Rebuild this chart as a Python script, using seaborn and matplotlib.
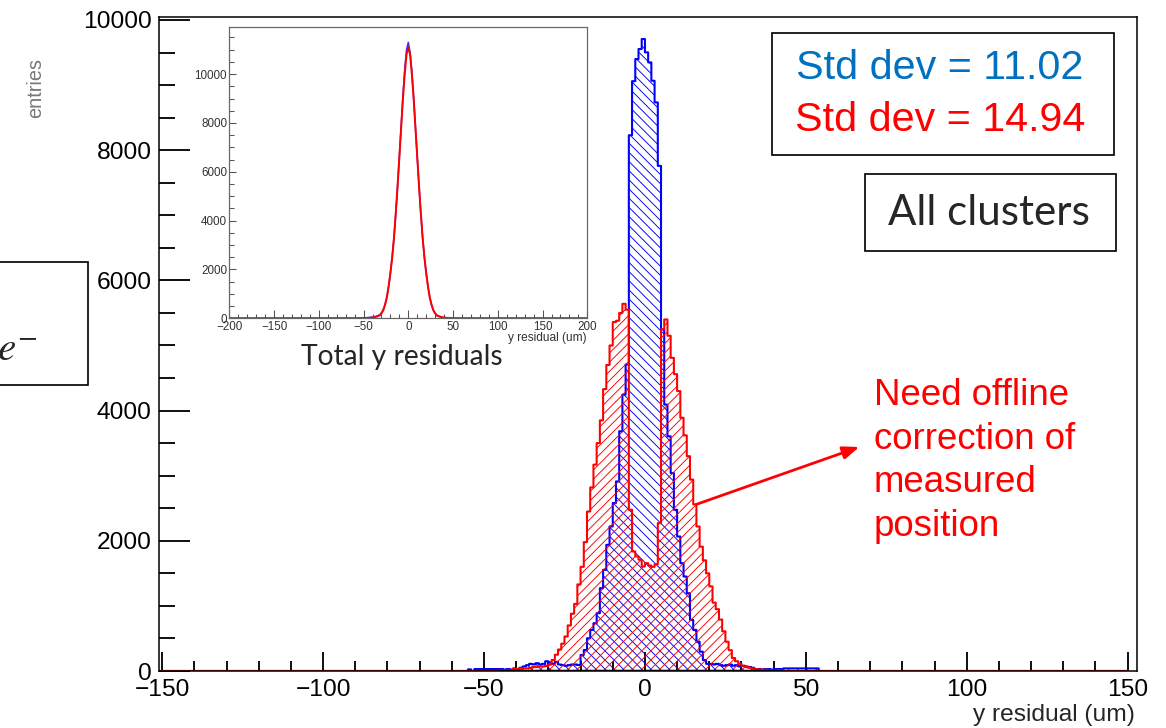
import numpy as np
import pandas as pd
import matplotlib
matplotlib.use("Agg")
import matplotlib.pyplot as plt
import seaborn as sns
from matplotlib.patches import Rectangle
from matplotlib.ticker import MultipleLocator

# ---------------- data ----------------
# main histogram: 1 um bins
blue_first_bin = -55
blue_tail_left = [25, 0, 30, 30, 30, 30, 30, 30, 30, 30,
                  30, 20, 30, 20, 40, 30, 50, 70, 90, 110,
                  100, 120, 100, 110, 150, 130, 110, 140, 100, 90,
                  80, 90, 100, 100]                       # bins -55..-22
blue_rise_left = [92, 246, 323, 503, 631, 734, 888, 1272, 1554,
                  1938, 2220, 2580, 2912, 3682, 4246, 4708]  # bins -21..-6
blue_core = [8230, 9060, 9400, 9554, 9708, 9503, 9349, 9067, 8734, 7759]  # bins -5..4
blue_fall_right = [5246, 4092, 3605, 3041, 2477, 2066, 1656, 1451, 1195,
                   785, 631, 451, 297, 169, 110]          # bins 5..19
blue_tail_right = [110, 100, 110, 90, 80, 90, 100, 80, 90, 70,
                   80, 70, 60, 50, 30, 30, 20, 30, 30, 20,
                   30, 30, 30, 40, 40, 40, 40, 40, 40, 40,
                   40, 40, 40, 40]                        # bins 20..53

red_first_bin = -45
red_counts = [10, 10, 10, 20, 30, 30, 40, 40, 40, 50,            # -45..-36
              60, 60, 70, 70, 80, 100, 169, 250, 330, 420,       # -35..-26
              530, 700, 880, 1030, 1330, 1600, 1980, 2450, 2820, 3170,  # -25..-16
              3500, 3850, 4330, 4700, 5000, 5360, 5380, 5500, 5640, 5550,  # -15..-6
              2477, 1836, 1760, 1710, 1605, 1657, 1620, 1600, 1640, 2272,  # -5..4
              5250, 5400, 5150, 4810, 4560, 4300, 3890, 3620, 3300, 2940,  # 5..14
              2560, 2220, 1910, 1700, 1500, 1300, 1050, 950, 790, 610,     # 15..24
              450, 320, 200, 150, 110, 80, 60, 50, 40, 30,                 # 25..34
              20, 20, 20, 10, 10, 10, 10, 10]                              # 35..42

hist_range = (-150, 150)

# inset (total y residuals)
inset_x = [-200, -60, -50, -45, -40, -36, -32, -30, -28, -26, -24, -22, -20, -18, -16,
           -14, -12, -10, -8, -6, -4, -2, 0, 2, 4, 6, 8, 10, 12, 14, 16, 18, 20, 22,
           24, 26, 28, 30, 32, 36, 40, 45, 50, 60, 200]
inset_red = [0, 0, 5, 10, 30, 60, 120, 200, 330, 550, 850, 1300, 1850, 2500, 3300,
             4300, 5400, 6600, 7800, 9000, 10000, 10800, 11100, 10800, 10000, 9000, 7800,
             6600, 5400, 4300, 3300, 2500, 1850, 1300, 850, 550, 330, 200, 120, 60, 30,
             10, 5, 0, 0]
inset_blue = [0, 5, 20, 30, 50, 80, 140, 220, 340, 560, 860, 1300, 1850, 2500, 3300,
              4300, 5400, 6600, 7850, 9100, 10200, 11000, 11300, 10900, 10100, 9000, 7800,
              6600, 5400, 4300, 3300, 2500, 1850, 1300, 850, 550, 330, 200, 110, 50, 20,
              5, 0, 0, 0]

blue_label = "Std dev = 11.02"
red_label = "Std dev = 14.94"

# ---------------- figure ----------------
sns.set_style("white")
plt.rcParams['font.family'] = ['Liberation Sans', 'DejaVu Sans']
plt.rcParams['hatch.linewidth'] = 0.6
plt.rcParams['mathtext.fontset'] = 'stix'

W, H, DPI = 1166, 728, 110
fig = plt.figure(figsize=(W / DPI, H / DPI), dpi=DPI)


def fx(px):
    return px / W


def fy(py):
    return 1 - py / H


ax = fig.add_axes([fx(159.3), fy(671), fx(1137) - fx(159.3), fy(17) - fy(671)])

edges = list(range(hist_range[0], hist_range[1] + 1))
centers = [e + 0.5 for e in edges[:-1]]

blue_vals = blue_tail_left + blue_rise_left + blue_core + blue_fall_right + blue_tail_right
blue_full = np.zeros(len(centers))
i0 = blue_first_bin - hist_range[0]
blue_full[i0:i0 + len(blue_vals)] = blue_vals
red_full = np.zeros(len(centers))
j0 = red_first_bin - hist_range[0]
red_full[j0:j0 + len(red_counts)] = red_counts


def hatched_hist(weights, color, hatch):
    n_before = len(ax.collections)
    df = pd.DataFrame({"x": centers, "w": weights})
    sns.histplot(data=df, x="x", weights="w", bins=edges, element="step", fill=True,
                 color=color, ax=ax, alpha=1)
    art = ax.collections[n_before]
    art.set_facecolor("none")
    art.set_edgecolor(color)
    art.set_hatch(hatch)
    art.set_linewidth(1.35)
    return art


hatched_hist(blue_full, "#0000ff", "\\\\\\\\")
hatched_hist(red_full, "#ff0000", "////")

# dark baseline under the populated range
ax.hlines(0, red_first_bin, red_first_bin + len(red_counts), color="black", lw=1.6, zorder=3)

ax.set_xlim(-150.9, 152.9)
ax.set_ylim(0, 10046)
ax.set_xlabel("")
ax.set_ylabel("")
ax.xaxis.set_major_locator(MultipleLocator(50))
ax.xaxis.set_minor_locator(MultipleLocator(10))
ax.yaxis.set_major_locator(MultipleLocator(2000))
ax.yaxis.set_minor_locator(MultipleLocator(500))
ax.tick_params(axis="both", which="both", direction="in", top=False, right=False,
               bottom=True, left=True, color="black", labelsize=16, labelcolor="black")
ax.tick_params(axis="x", which="major", length=12.4, width=1.2, pad=5)
ax.tick_params(axis="x", which="minor", length=6.5, width=1.2)
ax.tick_params(axis="y", which="major", length=20.5, width=1.2, pad=5)
ax.tick_params(axis="y", which="minor", length=10.3, width=1.2)
for s in ax.spines.values():
    s.set_color("black")
    s.set_linewidth(1.0)
    s.set_visible(True)

fig.text(fx(1135), fy(715), "y residual (um)", ha="right", va="center", fontsize=16)
fig.text(fx(36), fy(88), "entries", rotation=90, ha="center", va="center",
         fontsize=13, color="#777777")

# ---------------- inset ----------------
axin = fig.add_axes([fx(229.3), fy(318.3), fx(587.3) - fx(229.3), fy(26.7) - fy(318.3)])
sns.lineplot(x=inset_x, y=inset_blue, ax=axin, color="#3333ff", lw=1.0, estimator=None)
sns.lineplot(x=inset_x, y=inset_red, ax=axin, color="#ff0000", lw=1.3, estimator=None)
axin.set_xlim(-200, 200)
axin.set_ylim(0, 11940)
axin.xaxis.set_major_locator(MultipleLocator(50))
axin.xaxis.set_minor_locator(MultipleLocator(10))
axin.yaxis.set_major_locator(MultipleLocator(2000))
axin.yaxis.set_minor_locator(MultipleLocator(500))
axin.tick_params(axis="both", which="both", direction="in", top=False, right=False,
                 bottom=True, left=True, color="#555555", labelsize=7.6,
                 labelcolor="#333333", width=0.7)
axin.tick_params(axis="x", which="major", length=5.2, pad=2)
axin.tick_params(axis="x", which="minor", length=2.6)
axin.tick_params(axis="y", which="major", length=4.4, pad=1.5)
axin.tick_params(axis="y", which="minor", length=3)
for s in axin.spines.values():
    s.set_color("#666666")
    s.set_linewidth(0.8)
    s.set_visible(True)
axin.set_xlabel("")
axin.set_ylabel("")
fig.text(fx(587), fy(338), "y residual (um)", ha="right", va="center", fontsize=7.8,
         color="#333333")
fig.text(fx(402), fy(357), "Total y residuals", ha="center", va="center", fontsize=18.5,
         family=["Lato", "DejaVu Sans"])

# ---------------- boxes and labels ----------------
fig.add_artist(Rectangle((fx(772), fy(155)), fx(1114) - fx(772), fy(33) - fy(155),
                         transform=fig.transFigure, fill=False, ec="black", lw=1.1))
fig.text(fx(940), fy(68), blue_label, ha="center", va="center", fontsize=27,
         color="#0070c0")
fig.text(fx(940), fy(120), red_label, ha="center", va="center", fontsize=27,
         color="#ff0000")

fig.add_artist(Rectangle((fx(865), fy(251)), fx(1116) - fx(865), fy(174) - fy(251),
                         transform=fig.transFigure, fill=False, ec="black", lw=1.1))
fig.text(fx(989), fy(213), "All clusters", ha="center", va="center", fontsize=27.5,
         family=["Lato", "DejaVu Sans"])

fig.add_artist(Rectangle((fx(-20), fy(385)), fx(88) - fx(-20), fy(262) - fy(385),
                         transform=fig.transFigure, fill=False, ec="black", lw=1.1))
fig.text(fx(38), fy(350), "$e^{-}$", ha="right", va="center", fontsize=27)

# annotation arrow + text
arrow_bin = 15
ax.annotate("", xy=(66.6, 3441), xytext=(arrow_bin + 1, red_counts[arrow_bin - red_first_bin]),
            arrowprops=dict(arrowstyle="-|>,head_length=0.9,head_width=0.35",
                            color="#ff0000", lw=1.8, shrinkA=0, shrinkB=0))
fig.text(fx(874), fy(378), "Need offline\ncorrection of\nmeasured\nposition",
         ha="left", va="top", fontsize=24, color="#ff0000", linespacing=1.32)

fig.savefig("out.png", dpi=DPI, facecolor="white")
